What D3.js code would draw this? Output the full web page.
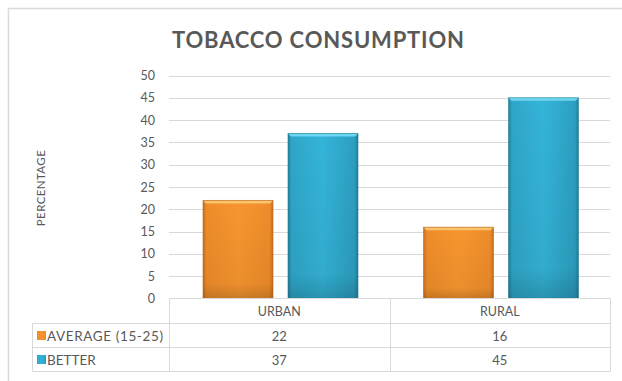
<!DOCTYPE html>
<html><head><meta charset="utf-8">
<script src="https://cdn.jsdelivr.net/npm/d3@7/dist/d3.min.js"></script>
<style>body{margin:0;background:#fff;}svg{display:block;font-family:Lato,"Open Sans",sans-serif;}</style>
</head><body>
<svg id="c" width="622" height="381"></svg>
<script>
const categories = ["URBAN", "RURAL"];
const seriesNames = ["AVERAGE (15-25)", "BETTER"];
const averageValues = [22, 16];
const betterValues = [37, 45];
const yTicks = [0, 5, 10, 15, 20, 25, 30, 35, 40, 45, 50];
const title = "TOBACCO CONSUMPTION";
const yTitle = "PERCENTAGE";

const series = [
  {name: seriesNames[0], values: averageValues, key: "o"},
  {name: seriesNames[1], values: betterValues, key: "b"}
];

const svg = d3.select("#c");
const m = {left: 169, right: 610, top: 75.5, bottom: 298.5};
const text = "#595959", grid = "#D9D9D9";

svg.append("path").attr("d", "M8.5,381V8.5H622").attr("fill","none").attr("stroke","#DADADA").attr("stroke-width",1.5);

const defs = svg.append("defs");
function grad(id, stops){
  const g = defs.append("linearGradient").attr("id", id).attr("x1","0").attr("x2","1").attr("y1","0").attr("y2","0");
  stops.forEach(s => g.append("stop").attr("offset", s[0]).attr("stop-color", s[1]));
}
grad("go", [[0,"#C9701D"],[0.05,"#EE8C2A"],[0.5,"#F7962F"],[0.95,"#EE8C2A"],[1,"#C9701D"]]);
grad("gb", [[0,"#237F99"],[0.05,"#2FA6C8"],[0.5,"#34B4D9"],[0.95,"#2C9FC0"],[1,"#237F99"]]);
const vg = defs.append("linearGradient").attr("id","shade").attr("x1","0").attr("x2","0").attr("y1","0").attr("y2","1");
vg.append("stop").attr("offset",0).attr("stop-color","#000").attr("stop-opacity",0);
vg.append("stop").attr("offset",0.85).attr("stop-color","#000").attr("stop-opacity",0.05);
vg.append("stop").attr("offset",1).attr("stop-color","#000").attr("stop-opacity",0.18);

const x0 = d3.scaleBand().domain(categories).range([m.left, m.right]);
const x1 = d3.scaleBand().domain(seriesNames).range([34, x0.bandwidth()-31.5]).paddingInner(0.176);
const y = d3.scaleLinear().domain([0, 50]).range([m.bottom, m.top]);

svg.append("g").selectAll("line").data(yTicks.filter(t=>t>0)).join("line")
  .attr("x1", m.left).attr("x2", m.right)
  .attr("y1", d => Math.round(y(d))+0.5).attr("y2", d => Math.round(y(d))+0.5)
  .attr("stroke", grid).attr("stroke-width", 1);

const yAxis = d3.axisLeft(y).tickValues(yTicks).tickSize(0).tickPadding(0);
const ya = svg.append("g").attr("transform", `translate(155,0)`).call(yAxis);
ya.select(".domain").remove();
ya.selectAll("text").attr("fill", text).attr("font-size", 12.5).attr("font-family","Lato,sans-serif");

svg.append("text").attr("x", 318).attr("y", 48).attr("text-anchor","middle")
  .attr("font-size", 22).attr("font-weight","bold").attr("fill", text)
  .attr("textLength", 292).attr("lengthAdjust","spacing").text(title);

svg.append("text").attr("transform","translate(45,188) rotate(-90)").attr("text-anchor","middle")
  .attr("font-size", 11.5).attr("fill", text).attr("letter-spacing", 0.4).text(yTitle);

categories.forEach((c, ci) => {
  series.forEach(s => {
    const bx = x0(c) + x1(s.name), bw = x1.bandwidth();
    const by = y(s.values[ci]), bh = y(0) - by;
    const g = svg.append("g");
    g.append("rect").attr("x", bx).attr("y", by).attr("width", bw).attr("height", bh)
      .attr("fill", `url(#g${s.key})`);
    g.append("rect").attr("x", bx).attr("y", by).attr("width", bw).attr("height", bh)
      .attr("fill", "url(#shade)");
    g.append("path").attr("d", `M${bx},${by}H${bx+bw}L${bx+bw-3},${by+3}H${bx+3}Z`)
      .attr("fill", s.key==="o" ? "#FBC36B" : "#6FD6F0");
    g.append("rect").attr("x", bx).attr("y", by).attr("width", bw).attr("height", bh)
      .attr("fill","none").attr("stroke", s.key==="o" ? "#B5661C" : "#1F7F98").attr("stroke-width",0.8).attr("stroke-opacity",0.7);
  });
});

const rowY = [298.5, 323.5, 347.5, 371.5];
const tl = 32.5;
const tg = svg.append("g").attr("stroke", grid).attr("stroke-width", 1).attr("fill","none");
tg.append("line").attr("x1", m.left).attr("x2", m.right).attr("y1", rowY[0]).attr("y2", rowY[0]);
[1,2,3].forEach(i => tg.append("line").attr("x1", tl).attr("x2", m.right).attr("y1", rowY[i]).attr("y2", rowY[i]));
tg.append("line").attr("x1", tl).attr("x2", tl).attr("y1", rowY[1]).attr("y2", rowY[3]);
[m.left, x0("RURAL"), m.right].forEach(xx => {
  tg.append("line").attr("x1", Math.round(xx)+0.5).attr("x2", Math.round(xx)+0.5).attr("y1", rowY[0]).attr("y2", rowY[3]);
});

categories.forEach(c => {
  svg.append("text").attr("x", x0(c)+x0.bandwidth()/2).attr("y", 316).attr("text-anchor","middle")
    .attr("font-size", 12.5).attr("fill", text).text(c);
});
series.forEach((s, si) => {
  const ry = rowY[si+1];
  svg.append("rect").attr("x", 37).attr("y", ry+7.5).attr("width", 9).attr("height", 9)
    .attr("fill", s.key==="o" ? "url(#go)" : "url(#gb)");
  svg.append("text").attr("x", 47).attr("y", ry+17).attr("font-size", 13.5).attr("fill", text)
    .attr("textLength", s.key==="o" ? 116 : null).text(s.name);
  categories.forEach((c, ci) => {
    svg.append("text").attr("x", x0(c)+x0.bandwidth()/2).attr("y", ry+17).attr("text-anchor","middle")
      .attr("font-size", 13).attr("fill", text).text(s.values[ci]);
  });
});
</script>
</body></html>
